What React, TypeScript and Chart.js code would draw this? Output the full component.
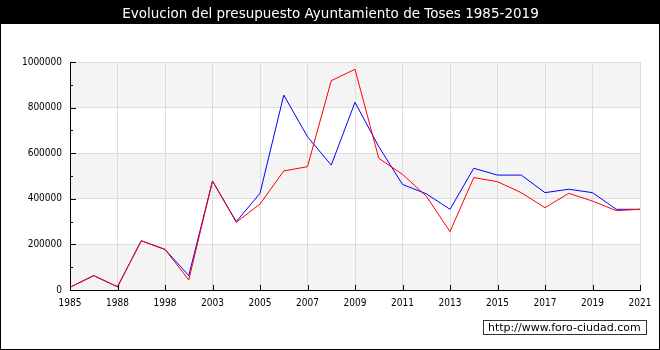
import React, { useEffect, useRef } from "react";
import { Chart, registerables } from "chart.js";

Chart.register(...registerables);

const TITLE = "Evolucion del presupuesto Ayuntamiento de Toses 1985-2019";
const WATERMARK = "http://www.foro-ciudad.com";

const years = [
  "1985", "1986", "1988", "1993", "1998", "2001", "2003", "2004", "2005", "2006",
  "2007", "2008", "2009", "2010", "2011", "2012", "2013", "2014", "2015", "2016",
  "2017", "2018", "2019", "2020", "2021",
];

const redValues = [
  12000, 63000, 14000, 216000, 178000, 44000, 478000, 297000, 377000, 522000,
  541000, 918000, 968000, 578000, 507000, 412000, 256000, 493000, 475000, 427000,
  361000, 424000, 390000, 348000, 354000,
];

const blueValues = [
  12000, 63000, 14000, 216000, 178000, 63000, 478000, 300000, 424000, 855000,
  672000, 548000, 823000, 629000, 463000, 422000, 354000, 534000, 504000, 504000,
  427000, 442000, 427000, 354000, 354000,
];

const yMax = 1000000;
const yStep = 100000;
const yLabelStep = 200000;

const FONT = "'DejaVu Sans Condensed', 'DejaVu Sans', sans-serif";

const framePlugin = {
  id: "frame",
  beforeDraw(chart: any) {
    const { ctx, width, height, chartArea, scales } = chart;
    ctx.save();
    ctx.fillStyle = "#ffffff";
    ctx.fillRect(0, 0, width, height);
    ctx.fillStyle = "#000000";
    ctx.fillRect(0, 0, width, 24);
    const y = scales.y;
    for (let v = 0; v < yMax; v += yLabelStep * 2) {
      const top = y.getPixelForValue(v + yLabelStep);
      const bot = y.getPixelForValue(v);
      ctx.fillStyle = "#f4f4f4";
      ctx.fillRect(chartArea.left, top, chartArea.right - chartArea.left, bot - top);
    }
    ctx.restore();
  },
  afterDraw(chart: any) {
    const { ctx, width, height, chartArea, scales } = chart;
    ctx.save();
    // title
    ctx.fillStyle = "#ffffff";
    ctx.font = "13.5px 'DejaVu Sans', sans-serif";
    ctx.textAlign = "center";
    ctx.textBaseline = "alphabetic";
    ctx.fillText(TITLE, width / 2 + 0.5, 17.5);
    // inward ticks
    ctx.strokeStyle = "#000000";
    ctx.lineWidth = 1;
    const y = scales.y;
    for (let v = 0; v <= yMax; v += yStep) {
      const py = Math.round(y.getPixelForValue(v)) + 0.5;
      const len = v % yLabelStep === 0 ? 6 : 3;
      ctx.beginPath();
      ctx.moveTo(chartArea.left, py);
      ctx.lineTo(chartArea.left + len, py);
      ctx.stroke();
    }
    const x = scales.x;
    for (let i = 0; i < years.length; i += 2) {
      const px = Math.round(x.getPixelForValue(i)) + 0.5;
      ctx.beginPath();
      ctx.moveTo(px, chartArea.bottom);
      ctx.lineTo(px, chartArea.bottom - 5);
      ctx.stroke();
    }
    // frame
    ctx.strokeStyle = "#000000";
    ctx.lineWidth = 1;
    ctx.strokeRect(0.5, 0.5, width - 1, height - 1);
    // watermark
    ctx.font = "11px 'DejaVu Sans', sans-serif";
    ctx.textAlign = "left";
    ctx.textBaseline = "middle";
    const bx = 483, by = 320, bw = 163, bh = 14;
    ctx.fillStyle = "#ffffff";
    ctx.fillRect(bx, by, bw, bh);
    ctx.lineWidth = 1;
    ctx.strokeStyle = "#333333";
    ctx.strokeRect(bx + 0.5, by + 0.5, bw, bh);
    ctx.fillStyle = "#000000";
    ctx.fillText(WATERMARK, bx + 5, by + bh / 2 + 1);
    ctx.restore();
  },
};

export default function App() {
  const ref = useRef<HTMLCanvasElement>(null);
  useEffect(() => {
    if (!ref.current) return;
    const chart = new Chart(ref.current, {
      type: "line",
      data: {
        labels: years,
        datasets: [
          {
            label: "Ingresos",
            data: redValues,
            borderColor: "#ff0000",
            borderWidth: 1,
            pointRadius: 0,
            tension: 0,
            fill: false,
            order: 0,
          },
          {
            label: "Gastos",
            data: blueValues,
            borderColor: "#0000ff",
            borderWidth: 1,
            pointRadius: 0,
            tension: 0,
            fill: false,
            order: 1,
          },
        ],
      },
      plugins: [framePlugin],
      options: {
        animation: false,
        responsive: false,
        devicePixelRatio: 1,
        layout: { padding: { left: 0, right: 20, top: 62, bottom: 40 } },
        plugins: { legend: { display: false }, tooltip: { enabled: false }, title: { display: false } },
        scales: {
          x: {
            type: "category",
            offset: false,
            border: { color: "#000000", width: 1 },
            grid: {
              drawTicks: false,
              color: (c: any) => (c.index % 2 === 0 ? "#dddddd" : "rgba(0,0,0,0)"),
            },
            ticks: {
              autoSkip: false,
              maxRotation: 0,
              minRotation: 0,
              padding: 7,
              color: "#000000",
              font: { family: FONT, size: 10 },
              callback: (_v: any, i: number) => (i % 2 === 0 ? years[i] : ""),
            },
            afterFit: (s: any) => {
              s.height = 20;
            },
          },
          y: {
            min: 0,
            max: yMax,
            border: { color: "#000000", width: 1 },
            grid: {
              drawTicks: false,
              color: (c: any) =>
                c.tick && c.tick.value % yLabelStep === 0 ? "#dddddd" : "rgba(0,0,0,0)",
            },
            ticks: {
              stepSize: yStep,
              padding: 8,
              color: "#000000",
              font: { family: FONT, size: 10 },
              callback: (v: any) => (Number(v) % yLabelStep === 0 ? String(v) : ""),
            },
            afterFit: (s: any) => {
              s.width = 70;
            },
          },
        },
      },
    });
    return () => chart.destroy();
  }, []);
  return (
    <div style={{ position: "fixed", left: 0, top: 0, width: 660, height: 350 }}>
      <canvas ref={ref} width={660} height={350} style={{ width: 660, height: 350 }} />
    </div>
  );
}
